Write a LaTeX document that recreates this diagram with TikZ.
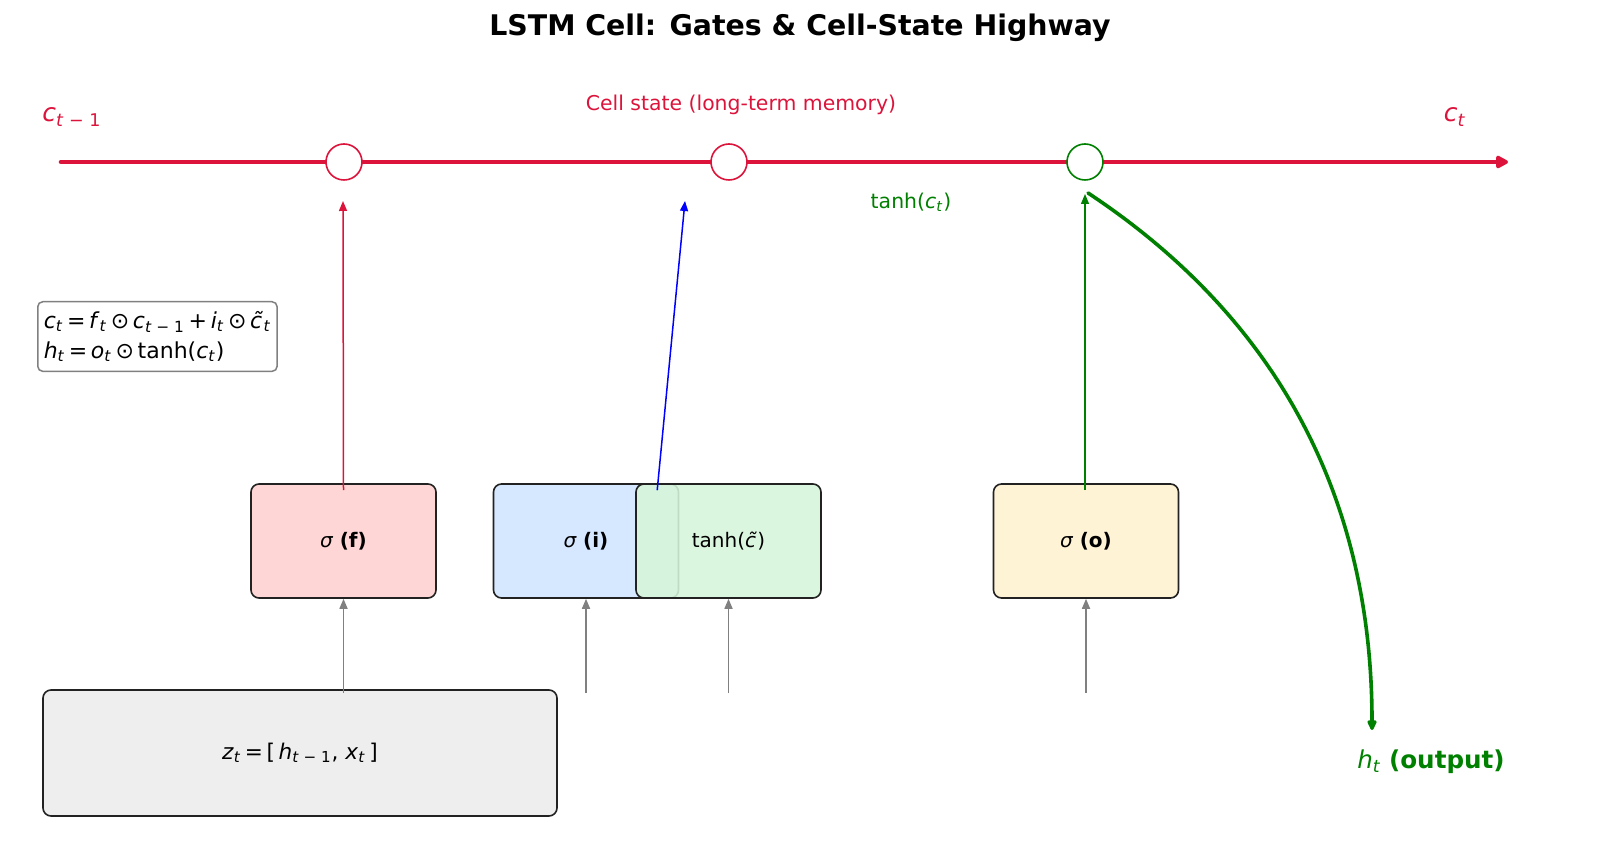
\documentclass[tikz,border=0pt]{standalone}
\usepackage{fontspec}
\setmainfont{DejaVu Sans}
\usetikzlibrary{arrows.meta,calc}
\definecolor{crim}{HTML}{DC143C}
\definecolor{dgreen}{HTML}{008000}
\definecolor{fcol}{HTML}{FFD6D6}
\definecolor{icol}{HTML}{D6E8FF}
\definecolor{tcol}{HTML}{D6F5DA}
\definecolor{ocol}{HTML}{FFF3D6}
\definecolor{zcol}{HTML}{EEEEEE}
\definecolor{edge}{HTML}{222222}
\newcommand{\mvar}[1]{\textit{#1}}
\newcommand{\msub}[1]{\textsubscript{#1}}
\tikzset{
  gate/.style={draw=edge, line width=0.8pt, rounded corners=4pt, minimum width=92.5pt, minimum height=57pt, inner sep=0pt, font=\fontsize{10}{12}\selectfont},
  mult/.style={circle, draw=#1, fill=white, line width=0.8pt, minimum size=18pt, inner sep=0pt},
  cellline/.style={crim, line width=2.3pt, line cap=round, -{Triangle[round,length=7pt,width=7pt]}},
  thinarrow/.style={line width=0.75pt, -{Triangle[length=5pt,width=4pt]}},
  grayarrow/.style={draw=gray, line width=0.8pt, -{Triangle[length=5pt,width=4pt]}},
}
\begin{document}
\begin{tikzpicture}[x=0.5pt,y=-0.5pt]
\useasboundingbox (0,0) rectangle (1600,865);
% title
\node (title) at (800,28) {\fontsize{14.2}{17}\selectfont\bfseries LSTM Cell: Gates \& Cell-State Highway};
% cell state line
\coordinate (cs) at (61,162);
\coordinate (ce) at (1508,162);
\draw[cellline] (cs) -- (ce);
\node[mult=crim] (m1) at (344,162) {};
\node[mult=crim] (m2) at (729,162) {};
\node[mult=dgreen] (m3) at (1085,162) {};
% labels
\node[text=crim] (lcprev) at (72,117) {\fontsize{12.5}{14}\selectfont\mvar{c}\msub{\mvar{t} − 1}};
\node[text=crim] (lcell) at (741,105) {\fontsize{10.2}{12}\selectfont Cell state (long-term memory)};
\node[text=crim] (lct) at (1455,117) {\fontsize{12.5}{14}\selectfont\mvar{c}\msub{\mvar{t}}};
\node[text=dgreen] (ltanh) at (911,202) {\fontsize{10.2}{12}\selectfont tanh(\mvar{c}\msub{\mvar{t}})};
% equation box
\node[draw=gray, fill=white, line width=0.75pt, rounded corners=2.5pt, align=left, anchor=north west, inner xsep=3pt, inner ysep=4.8pt, font=\fontsize{11}{15}\selectfont] (eqs) at (37,301)
 {\mvar{c}\msub{\mvar{t}}\,=\,\mvar{f}\msub{\mvar{t}}\,⊙\,\mvar{c}\msub{\mvar{t} − 1}\,+\,\mvar{i}\msub{\mvar{t}}\,⊙\,\mvar{c̃}\msub{\mvar{t}}\\
  \mvar{h}\msub{\mvar{t}}\,=\,\mvar{o}\msub{\mvar{t}}\,⊙\,tanh(\mvar{c}\msub{\mvar{t}})};
% gates
\node[gate, fill=fcol] (fbox) at (343.5,541) {\mvar{σ} \textbf{(f)}};
\node[gate, fill=icol] (ibox) at (586,541) {\mvar{σ} \textbf{(i)}};
\node[gate, fill=tcol, fill opacity=0.88, text opacity=1] (tbox) at (728.5,541) {tanh(\mvar{c̃})};
\node[gate, fill=ocol] (obox) at (1086,541) {\mvar{σ} \textbf{(o)}};
% input box
\node[draw=edge, fill=zcol, line width=0.8pt, rounded corners=4pt, minimum width=257pt, minimum height=63pt] (zbox) at (300,753)
 {\fontsize{10.8}{12}\selectfont \mvar{z}\msub{\mvar{t}}\,=\,[\,\mvar{h}\msub{\mvar{t} − 1}, \mvar{x}\msub{\mvar{t}}\,]};
% output label
\node[text=dgreen] (hout) at (1431,762) {\fontsize{12.3}{14}\selectfont \mvar{h}\msub{\mvar{t}} \textbf{(output)}};
% gate to cell-state arrows
\coordinate (fend) at (343,201);
\coordinate (iend) at (685,201);
\coordinate (oend) at (1085,194);
\draw[thinarrow, crim] ($(fbox.north)+(0,7)$) -- (fend);
\draw[thinarrow, blue] ($(tbox.north west)+(22,7)$) -- (iend);
\draw[thinarrow, dgreen] ($(obox.north)+(-1,7)$) -- (oend);
% input arrows
\coordinate (in1) at (343.5,693);
\coordinate (in2) at (586,693);
\coordinate (in3) at (728.5,693);
\coordinate (in4) at (1086,693);
\draw[grayarrow] (in1) -- (fbox.south);
\draw[grayarrow] (in2) -- (ibox.south);
\draw[grayarrow] (in3) -- (tbox.south);
\draw[grayarrow] (in4) -- (obox.south);
% output curve
\coordinate (cstart) at (1088,193);
\coordinate (cend) at (1372,730);
\draw[dgreen, line width=1.8pt, line cap=round, -{Triangle[round,length=6pt,width=5pt]}] (cstart) .. controls (1277,318) and (1372,497) .. (cend);
\end{tikzpicture}
\end{document}
